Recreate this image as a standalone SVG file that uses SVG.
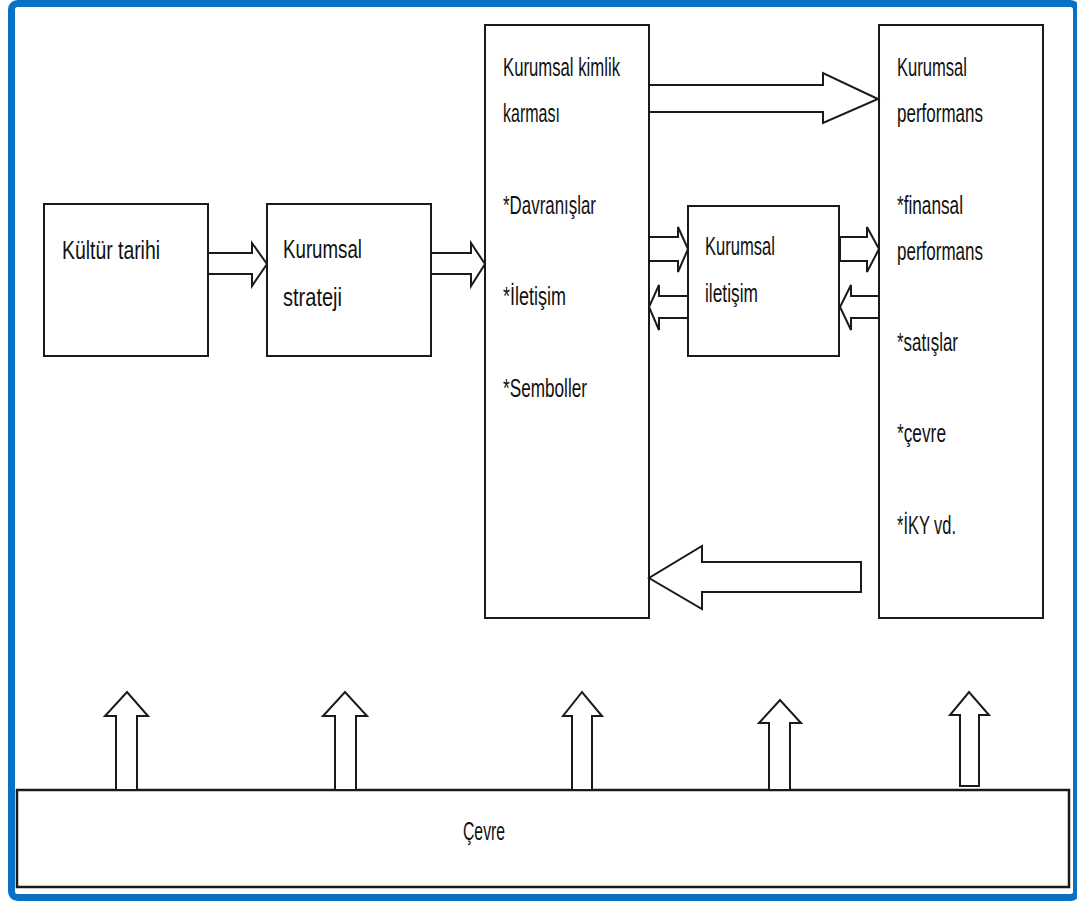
<svg xmlns="http://www.w3.org/2000/svg" width="1077" height="901" viewBox="0 0 1077 901">
<style>
.box{fill:#fff;stroke:#1a1a1a;stroke-width:2}
.arr{fill:#fff;stroke:#1a1a1a;stroke-width:2;stroke-linejoin:miter}
text{font-family:"Liberation Sans",Arial,sans-serif;font-size:25px;fill:#111}
</style>
<rect x="0" y="0" width="1077" height="901" fill="#fff"/>
<rect x="11.5" y="3.5" width="1065" height="894" rx="6" fill="none" stroke="#0a70c4" stroke-width="7"/>
<g id="kultur">
<rect class="box" x="44" y="204" width="164" height="152"/>
<text x="62" y="259" textLength="98" lengthAdjust="spacingAndGlyphs">Kültür tarihi</text>
</g>
<g id="strateji">
<rect class="box" x="267" y="204" width="164" height="152"/>
<text x="283" y="258" textLength="79" lengthAdjust="spacingAndGlyphs">Kurumsal</text>
<text x="283" y="306" textLength="59" lengthAdjust="spacingAndGlyphs">strateji</text>
</g>
<g id="kimlik">
<rect class="box" x="485" y="25" width="164" height="593"/>
<text x="503" y="76" textLength="117" lengthAdjust="spacingAndGlyphs">Kurumsal kimlik</text>
<text x="503" y="122" textLength="57" lengthAdjust="spacingAndGlyphs">karması</text>
<text x="503" y="214" textLength="93" lengthAdjust="spacingAndGlyphs">*Davranışlar</text>
<text x="503" y="305" textLength="63" lengthAdjust="spacingAndGlyphs">*İletişim</text>
<text x="503" y="397" textLength="84" lengthAdjust="spacingAndGlyphs">*Semboller</text>
</g>
<g id="iletisim">
<rect class="box" x="688" y="206" width="151" height="150"/>
<text x="705" y="255" textLength="70" lengthAdjust="spacingAndGlyphs">Kurumsal</text>
<text x="705" y="302" textLength="53" lengthAdjust="spacingAndGlyphs">iletişim</text>
</g>
<g id="performans">
<rect class="box" x="879" y="25" width="164" height="593"/>
<text x="897" y="76" textLength="70" lengthAdjust="spacingAndGlyphs">Kurumsal</text>
<text x="897" y="122" textLength="86" lengthAdjust="spacingAndGlyphs">performans</text>
<text x="897" y="214" textLength="66" lengthAdjust="spacingAndGlyphs">*finansal</text>
<text x="897" y="260" textLength="86" lengthAdjust="spacingAndGlyphs">performans</text>
<text x="897" y="351" textLength="61" lengthAdjust="spacingAndGlyphs">*satışlar</text>
<text x="897" y="442" textLength="49" lengthAdjust="spacingAndGlyphs">*çevre</text>
<text x="897" y="534" textLength="59" lengthAdjust="spacingAndGlyphs">*İKY vd.</text>
</g>
<g id="cevre">
<rect class="box" x="17" y="790" width="1052" height="97" style="stroke-width:2.5"/>
<text x="463" y="840" textLength="42" lengthAdjust="spacingAndGlyphs">Çevre</text>
</g>
<g id="connectors">
<polygon class="arr" points="208,253 252,253 252,243 267,264 252,286 252,274 208,274"/>
<polygon class="arr" points="431,253 471,253 471,243 485,264 471,286 471,274 431,274"/>
<polygon class="arr" points="649,85 823,85 823,73 878,99 823,123 823,112 649,112"/>
<polygon class="arr" points="649,237 678,237 678,227 688,249 678,272 678,261 649,261"/>
<polygon class="arr" points="688,296 659,296 659,285 649,307 659,330 659,318 688,318"/>
<polygon class="arr" points="840,237 867,237 867,227 879,249 867,272 867,261 840,261"/>
<polygon class="arr" points="879,296 851,296 851,285 840,307 851,330 851,318 879,318"/>
<polygon class="arr" points="861,562 702,562 702,546 649,578 702,609 702,592 861,592"/>
<polygon class="arr" points="116,790 116,716 105,716 127,692 148,716 137,716 137,790"/>
<polygon class="arr" points="335,790 335,716 323,716 345,692 367,716 356,716 356,790"/>
<polygon class="arr" points="572,790 572,716 563,716 582,692 602,716 592,716 592,790"/>
<polygon class="arr" points="769,790 769,723 759,723 780,700 801,723 790,723 790,790"/>
<polygon class="arr" points="960,786 960,715 950,715 969,692 989,715 979,715 979,786"/>
</g>
</svg>
